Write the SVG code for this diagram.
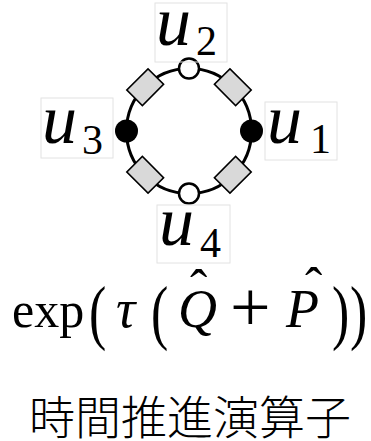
<svg xmlns="http://www.w3.org/2000/svg" width="371" height="441" viewBox="0 0 371 441">
<style>
.box{fill:none;stroke:#e2e2e2;stroke-width:1}
.u{font-family:"Liberation Serif",serif;font-style:italic;font-size:70px;fill:#000}
.sub{font-family:"Liberation Serif",serif;font-size:42px;fill:#000}
.seg{fill:#d9d9d9;stroke:#000;stroke-width:1.6}
.ring{fill:none;stroke:#000;stroke-width:3}
.wdot{fill:#fff;stroke:#000;stroke-width:2.5}
.bdot{fill:#000}
.m{font-family:"Liberation Serif",serif;font-size:50px;fill:#000}
.mi{font-family:"Liberation Serif",serif;font-style:italic;font-size:54px;fill:#000}
.par{font-family:"Liberation Serif",serif;font-size:72px;fill:#000}
.hat{font-family:"Liberation Serif",serif;font-size:52px;fill:#000}
.plus{font-family:"Liberation Serif",serif;font-size:72px;fill:#000}
.jp{font-family:"Noto Sans CJK JP","Noto Sans CJK SC",sans-serif;font-size:46px;font-weight:300;fill:#000}
</style>
<rect width="371" height="441" fill="#fff"/>
<g id="connectors">
<circle class="ring" cx="189" cy="131" r="62.5"/>
</g>
<g id="segments">
<rect class="seg" x="-15" y="-11" width="30" height="22" transform="translate(145.2,87.2) rotate(-45)"/>
<rect class="seg" x="-15" y="-11" width="30" height="22" transform="translate(232.8,87.2) rotate(45)"/>
<rect class="seg" x="-15" y="-11" width="30" height="22" transform="translate(232.8,174.8) rotate(-45)"/>
<rect class="seg" x="-15" y="-11" width="30" height="22" transform="translate(145.2,174.8) rotate(45)"/>
</g>
<g id="node-u1">
<circle class="bdot" cx="251.5" cy="131" r="11.5"/>
<rect class="box" x="265" y="102" width="72" height="58"/>
<text class="u" x="267" y="143">u</text>
<text class="sub" x="310" y="153">1</text>
</g>
<g id="node-u2">
<circle class="wdot" cx="189" cy="68.5" r="10"/>
<rect class="box" x="155" y="3" width="72" height="59"/>
<text class="u" x="156" y="45">u</text>
<text class="sub" x="196" y="55">2</text>
</g>
<g id="node-u3">
<circle class="bdot" cx="126.5" cy="131" r="11.5"/>
<rect class="box" x="41" y="98" width="72" height="60"/>
<text class="u" x="42" y="143">u</text>
<text class="sub" x="82" y="154">3</text>
</g>
<g id="node-u4">
<circle class="wdot" cx="189" cy="193.5" r="10"/>
<rect class="box" x="157" y="205" width="73" height="58"/>
<text class="u" x="159" y="245">u</text>
<text class="sub" x="200" y="257">4</text>
</g>
<g id="formula">
<text class="m" x="12" y="327">exp</text>
<text class="par" transform="translate(89,336) scale(0.72,1)">(</text>
<text class="mi" x="116" y="327">τ</text>
<text class="par" transform="translate(151,336) scale(0.72,1)">(</text>
<text class="mi" x="178" y="327">Q</text>
<text class="hat" x="190" y="306">ˆ</text>
<text class="plus" x="230" y="331">+</text>
<text class="mi" x="286" y="327">P</text>
<text class="hat" x="305" y="304">ˆ</text>
<text class="par" transform="translate(332,336) scale(0.72,1)">)</text>
<text class="par" transform="translate(350,336) scale(0.72,1)">)</text>
</g>
<g id="caption">
<text class="jp" x="190" y="434" text-anchor="middle">時間推進演算子</text>
</g>
</svg>
